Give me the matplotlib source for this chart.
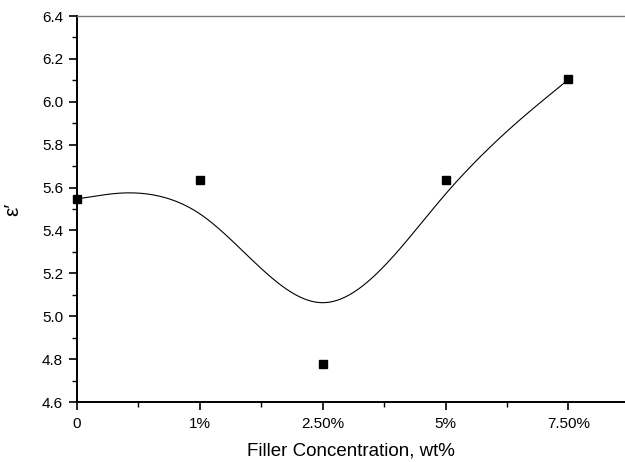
import matplotlib.pyplot as plt
import numpy as np

plt.rcParams['font.family'] = ['Liberation Sans', 'DejaVu Sans']

labels = ['0', '1%', '2.50%', '5%', '7.50%']
eps = [5.547, 5.635, 4.777, 5.635, 6.104]


def bspline(px, py, n=60):
    # uniform cubic B-spline, end points tripled so the curve hits them
    qx = np.r_[[px[0]] * 2, px, [px[-1]] * 2]
    qy = np.r_[[py[0]] * 2, py, [py[-1]] * 2]
    t = np.linspace(0, 1, n)
    b = np.array([(1 - t) ** 3, 3 * t**3 - 6 * t**2 + 4, -3 * t**3 + 3 * t**2 + 3 * t + 1, t**3]) / 6
    xs, ys = [], []
    for i in range(len(qx) - 3):
        xs.append(b.T @ qx[i:i + 4])
        ys.append(b.T @ qy[i:i + 4])
    return np.concatenate(xs), np.concatenate(ys)


x = np.arange(len(labels), dtype=float)
cx, cy = bspline(x, np.array(eps))

fig = plt.figure(figsize=(6.25, 4.62), dpi=100)
ax = fig.add_axes([77 / 625, 1 - 402 / 462, 1 - 77 / 625, (402 - 16) / 462])

ax.plot(cx, cy, color='black', lw=0.8)
ax.plot(x, eps, 's', color='black', ms=6, clip_on=False, zorder=3)

ax.set_xlim(0, 4.46)
ax.set_ylim(4.6, 6.4)
ax.set_xticks(x)
ax.set_xticklabels(labels)
ax.set_xticks(x[:-1] + 0.5, minor=True)
ax.set_yticks(np.arange(4.6, 6.41, 0.2))
ax.set_yticks(np.arange(4.7, 6.4, 0.2), minor=True)
ax.yaxis.set_major_formatter(plt.FormatStrFormatter('%.1f'))

ax.spines['right'].set_visible(False)
ax.spines['top'].set_color('#777777')
ax.spines['top'].set_linewidth(1.0)
ax.spines['left'].set_linewidth(1.4)
ax.spines['bottom'].set_linewidth(1.4)

ax.tick_params(which='major', direction='out', length=6, width=1.2, labelsize=11, pad=4)
ax.tick_params(which='minor', direction='out', length=3.5, width=1.0)
ax.tick_params(axis='x', which='major', pad=5)

ax.set_xlabel('Filler Concentration, wt%', fontsize=13.5)
ax.xaxis.set_label_coords(0.5, -0.105)
ax.set_ylabel('ε′', fontsize=15)
ax.yaxis.set_label_coords(-0.1, 0.5)

fig.savefig('out.png', dpi=100)
